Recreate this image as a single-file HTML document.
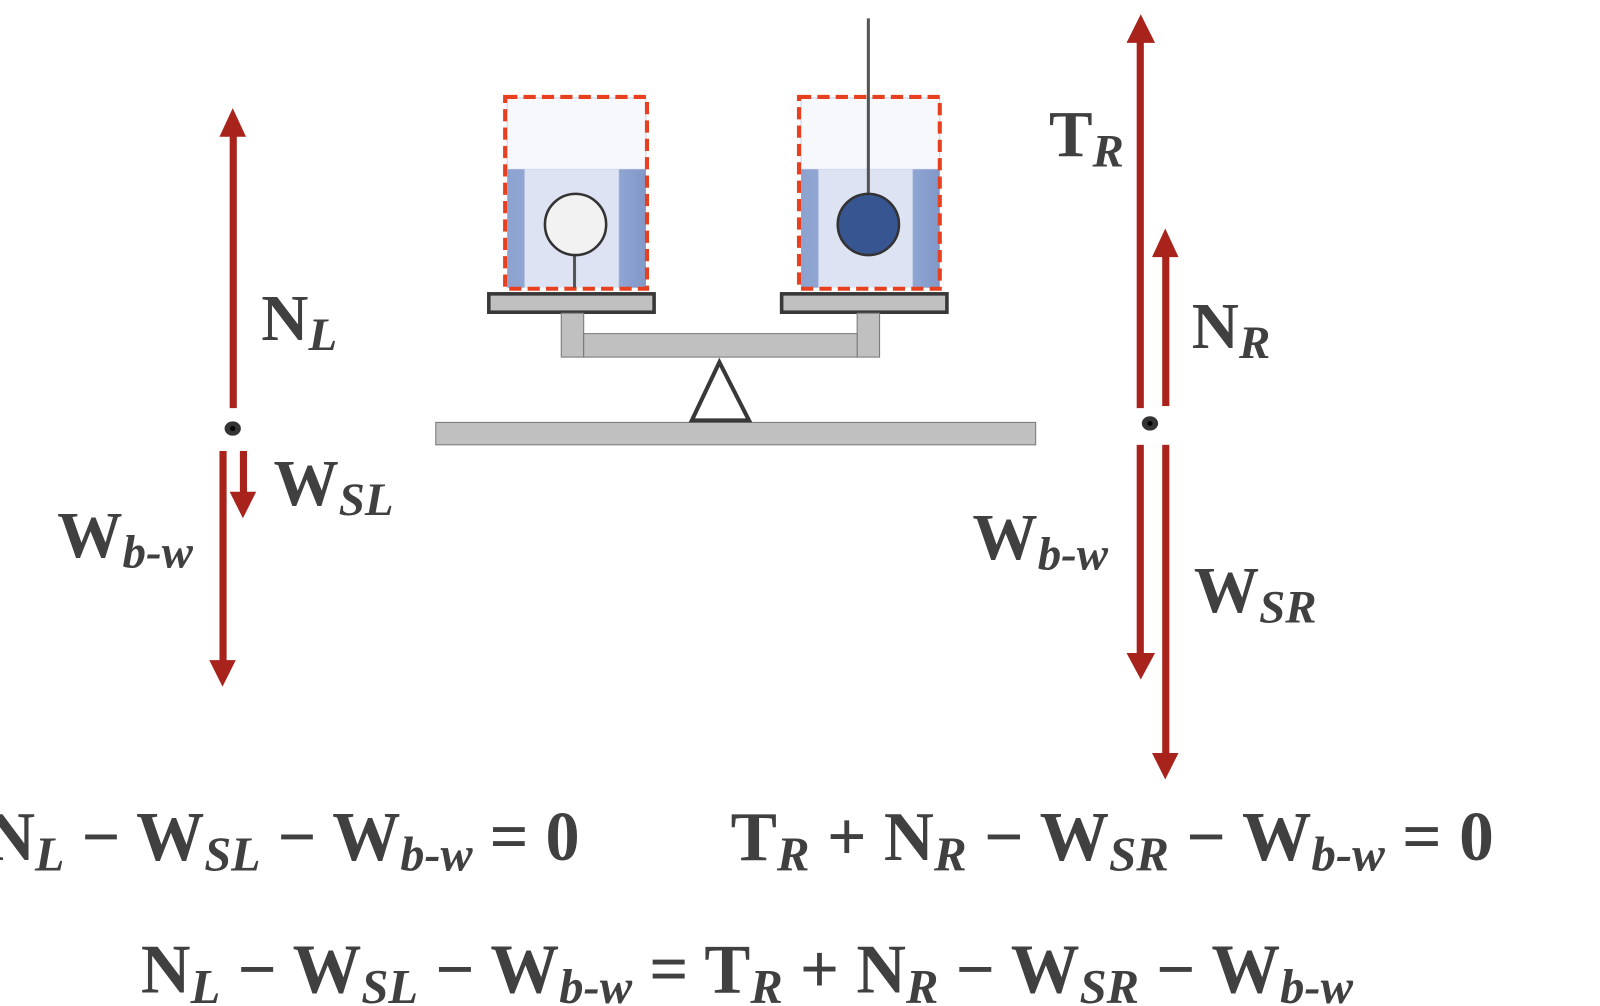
<!DOCTYPE html>
<html><head><meta charset="utf-8"><style>
html,body{margin:0;padding:0;background:#fff;width:1600px;height:1006px;overflow:hidden}
svg{display:block}
text{font-family:"Liberation Serif",serif;font-weight:bold;fill:#404040}
.s{font-style:italic}
</style></head><body>
<svg width="1600" height="1006" viewBox="0 0 1568 986" xmlns="http://www.w3.org/2000/svg">
<defs>
<linearGradient id="w" x1="0" x2="1"><stop offset="0" stop-color="#8ea2cf"/><stop offset="0.12" stop-color="#8fa5d2"/><stop offset="0.13" stop-color="#dde3f2"/><stop offset="0.8" stop-color="#dde3f2"/><stop offset="0.81" stop-color="#8fa5d2"/><stop offset="1" stop-color="#8198c8"/></linearGradient>
</defs>
<g>
<rect x="497" y="96" width="136" height="70" fill="#f6f8fc" stroke="#c5d0e8"/>
<rect x="497" y="166" width="136" height="116" fill="url(#w)"/>
<rect x="495" y="95" width="139" height="188" fill="none" stroke="#e8401f" stroke-width="4" stroke-dasharray="12,6"/>
<line x1="563" y1="250" x2="563" y2="282" stroke="#555" stroke-width="3"/>
<circle cx="564" cy="220" r="30" fill="#f2f2f2" stroke="#333" stroke-width="2.5"/>
<rect x="785" y="96" width="136" height="70" fill="#f6f8fc" stroke="#c5d0e8"/>
<rect x="785" y="166" width="136" height="116" fill="url(#w)"/>
<rect x="783" y="95" width="138" height="188" fill="none" stroke="#e8401f" stroke-width="4" stroke-dasharray="12,6"/>
<line x1="851" y1="18" x2="851" y2="192" stroke="#555" stroke-width="3"/>
<circle cx="851" cy="220" r="30" fill="#375591" stroke="#333" stroke-width="2.5"/>
</g>
<rect x="479" y="288" width="162" height="18" fill="#c0c0c0" stroke="#383838" stroke-width="3.5"/>
<rect x="766" y="288" width="162" height="18" fill="#c0c0c0" stroke="#383838" stroke-width="3.5"/>
<rect x="550" y="307" width="22" height="43" fill="#c0c0c0" stroke="#777" stroke-width="1"/>
<rect x="840" y="307" width="22" height="43" fill="#c0c0c0" stroke="#777" stroke-width="1"/>
<rect x="572" y="327" width="268" height="23" fill="#c0c0c0" stroke="#777" stroke-width="1"/>
<rect x="427" y="414" width="588" height="22" fill="#c0c0c0" stroke="#777" stroke-width="1"/>
<polygon points="705,355 678,412 734,412" fill="#fff" stroke="#383838" stroke-width="4"/>
<g fill="#a8231b" stroke="none">
<rect x="225" y="130" width="7" height="270"/><polygon points="228,106 215,134 241,134"/>
<rect x="235" y="442" width="7" height="44"/><polygon points="238,508 225,482 251,482"/>
<rect x="215" y="442" width="7" height="210"/><polygon points="218,673 205,647 231,647"/>
<rect x="1114" y="38" width="7" height="362"/><polygon points="1118,14 1104,42 1132,42"/>
<rect x="1139" y="248" width="7" height="150"/><polygon points="1142,224 1129,252 1155,252"/>
<rect x="1114" y="436" width="7" height="208"/><polygon points="1118,666 1104,640 1132,640"/>
<rect x="1139" y="436" width="7" height="306"/><polygon points="1142,764 1129,738 1155,738"/>
</g>
<ellipse cx="228" cy="420" rx="8" ry="7" fill="#333"/><circle cx="228" cy="420" r="2.5" fill="#000"/>
<ellipse cx="1127" cy="415" rx="8" ry="7" fill="#333"/><circle cx="1127" cy="415" r="2.5" fill="#000"/>
<g font-size="64">
<text x="256" y="333">N<tspan class="s" font-size="46" dy="10">L</tspan></text>
<text x="268" y="495">W<tspan class="s" font-size="46" dy="10">SL</tspan></text>
<text x="56" y="546">W<tspan class="s" font-size="46" dy="10">b-w</tspan></text>
<text x="1028" y="153">T<tspan class="s" font-size="46" dy="10">R</tspan></text>
<text x="1168" y="341">N<tspan class="s" font-size="46" dy="10">R</tspan></text>
<text x="953" y="548">W<tspan class="s" font-size="46" dy="10">b-w</tspan></text>
<text x="1170" y="600">W<tspan class="s" font-size="46" dy="10">SR</tspan></text>
</g>
<g font-size="68">
<text x="-14" y="843" textLength="582" lengthAdjust="spacingAndGlyphs">N<tspan class="s" font-size="48" dy="10">L</tspan><tspan dy="-10"> − W</tspan><tspan class="s" font-size="48" dy="10">SL</tspan><tspan dy="-10"> − W</tspan><tspan class="s" font-size="48" dy="10">b-w</tspan><tspan dy="-10"> = 0</tspan></text>
<text x="716" y="843" textLength="748" lengthAdjust="spacingAndGlyphs">T<tspan class="s" font-size="48" dy="10">R</tspan><tspan dy="-10"> + N</tspan><tspan class="s" font-size="48" dy="10">R</tspan><tspan dy="-10"> − W</tspan><tspan class="s" font-size="48" dy="10">SR</tspan><tspan dy="-10"> − W</tspan><tspan class="s" font-size="48" dy="10">b-w</tspan><tspan dy="-10"> = 0</tspan></text>
<text x="138" y="973" textLength="1188" lengthAdjust="spacingAndGlyphs">N<tspan class="s" font-size="48" dy="10">L</tspan><tspan dy="-10"> − W</tspan><tspan class="s" font-size="48" dy="10">SL</tspan><tspan dy="-10"> − W</tspan><tspan class="s" font-size="48" dy="10">b-w</tspan><tspan dy="-10"> = T</tspan><tspan class="s" font-size="48" dy="10">R</tspan><tspan dy="-10"> + N</tspan><tspan class="s" font-size="48" dy="10">R</tspan><tspan dy="-10"> − W</tspan><tspan class="s" font-size="48" dy="10">SR</tspan><tspan dy="-10"> − W</tspan><tspan class="s" font-size="48" dy="10">b-w</tspan></text>
</g>
</svg>
</body></html>
